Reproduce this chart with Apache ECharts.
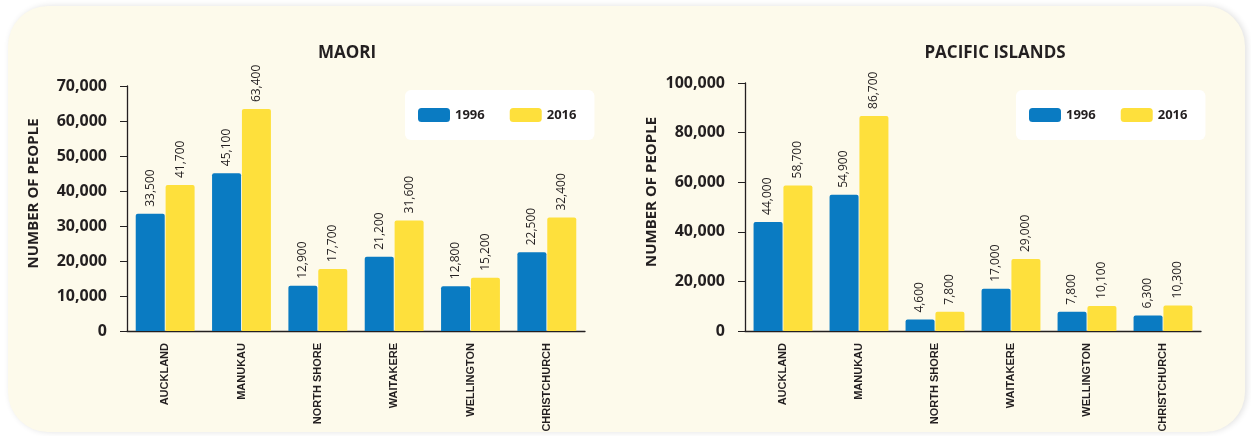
<!DOCTYPE html>
<html><head><meta charset="utf-8">
<script src="https://cdn.jsdelivr.net/npm/echarts@6/dist/echarts.min.js"></script>
<style>html,body{margin:0;padding:0;background:#fff}#c{width:1251px;height:436px}</style>
</head><body><div id="c"></div>
<script>
const categories = ['AUCKLAND','MANUKAU','NORTH SHORE','WAITAKERE','WELLINGTON','CHRISTCHURCH'];
const maori1996 = [33500, 45100, 12900, 21200, 12800, 22500];
const maori2016 = [41700, 63400, 17700, 31600, 15200, 32400];
const pacific1996 = [44000, 54900, 4600, 17000, 7800, 6300];
const pacific2016 = [58700, 86700, 7800, 29000, 10100, 10300];
const titles = ['MAORI', 'PACIFIC ISLANDS'];
const yName = 'NUMBER OF PEOPLE';
const years = ['1996', '2016'];

const BLUE = '#0a7bc2', YELLOW = '#fee03c', DARK = '#231f20';
const FONT = '"Open Sans", sans-serif';
const chart = echarts.init(document.getElementById('c'));

function yAxis(idx, max, interval) {
  return {
    gridIndex: idx, type: 'value', min: 0, max: max, interval: interval,
    name: yName, nameLocation: 'middle', nameGap: 86, nameRotate: 90,
    nameTextStyle: {fontFamily: FONT, fontWeight: 'bold', fontSize: 15, color: DARK, padding: [0, 0, 0, 30]},
    axisLine: {show: true, lineStyle: {color: DARK, width: 1.3}},
    axisTick: {show: true, inside: false, length: 7, lineStyle: {color: DARK}},
    axisLabel: {margin: 20, fontFamily: FONT, fontWeight: 'bold', fontSize: 16, color: DARK,
      formatter: v => v.toLocaleString('en-US')},
    splitLine: {show: false}
  };
}
function xAxis(idx) {
  return {
    gridIndex: idx, type: 'category', data: categories,
    axisLine: {lineStyle: {color: DARK, width: 1.3}},
    axisTick: {length: 6, lineStyle: {color: DARK}},
    axisLabel: {rotate: 90, margin: 12, fontFamily: '"Liberation Sans Narrow", sans-serif',
      fontWeight: 'bold', fontSize: 11, color: DARK, interval: 0}
  };
}
function bar(name, data, color, idx) {
  return {
    type: 'bar', name: name, data: data, xAxisIndex: idx, yAxisIndex: idx,
    barWidth: 29, barGap: '3%',
    itemStyle: {color: color, borderRadius: [2, 2, 0, 0]},
    label: {show: true, position: 'top', rotate: 90, align: 'left', verticalAlign: 'middle',
      distance: 7, fontFamily: FONT, fontSize: 12, color: DARK,
      formatter: p => p.value.toLocaleString('en-US')}
  };
}
function legend(left) {
  return {
    left: left, top: 90, orient: 'horizontal', data: years,
    backgroundColor: '#ffffff', borderRadius: 6,
    padding: [18, 18, 18, 13], itemGap: 25, itemWidth: 32, itemHeight: 14,
    icon: 'roundRect',
    textStyle: {fontFamily: FONT, fontWeight: 'bold', fontSize: 13, color: DARK}
  };
}

chart.setOption({
  backgroundColor: '#ffffff',
  color: [BLUE, YELLOW],
  animation: false,
  graphic: [{
    type: 'rect', z: -10, silent: true,
    shape: {x: 8, y: 6, width: 1237, height: 426, r: 40},
    style: {fill: '#fdfaeb', shadowBlur: 6, shadowColor: 'rgba(0,0,0,0.12)', shadowOffsetX: 2}
  }],
  title: [
    {text: titles[0], left: 342, top: 40, textAlign: 'center',
     textStyle: {fontFamily: FONT, fontWeight: 'bold', fontSize: 17, color: DARK}},
    {text: titles[1], left: 990, top: 40, textAlign: 'center',
     textStyle: {fontFamily: FONT, fontWeight: 'bold', fontSize: 17, color: DARK}}
  ],
  legend: [legend(405), legend(1016)],
  grid: [
    {left: 127, width: 458, top: 86, bottom: 105},
    {left: 745, width: 456, top: 83, bottom: 105}
  ],
  xAxis: [xAxis(0), xAxis(1)],
  yAxis: [yAxis(0, 70000, 10000), yAxis(1, 100000, 20000)],
  series: [
    bar(years[0], maori1996, BLUE, 0),
    bar(years[1], maori2016, YELLOW, 0),
    bar(years[0], pacific1996, BLUE, 1),
    bar(years[1], pacific2016, YELLOW, 1)
  ]
});
</script></body></html>
